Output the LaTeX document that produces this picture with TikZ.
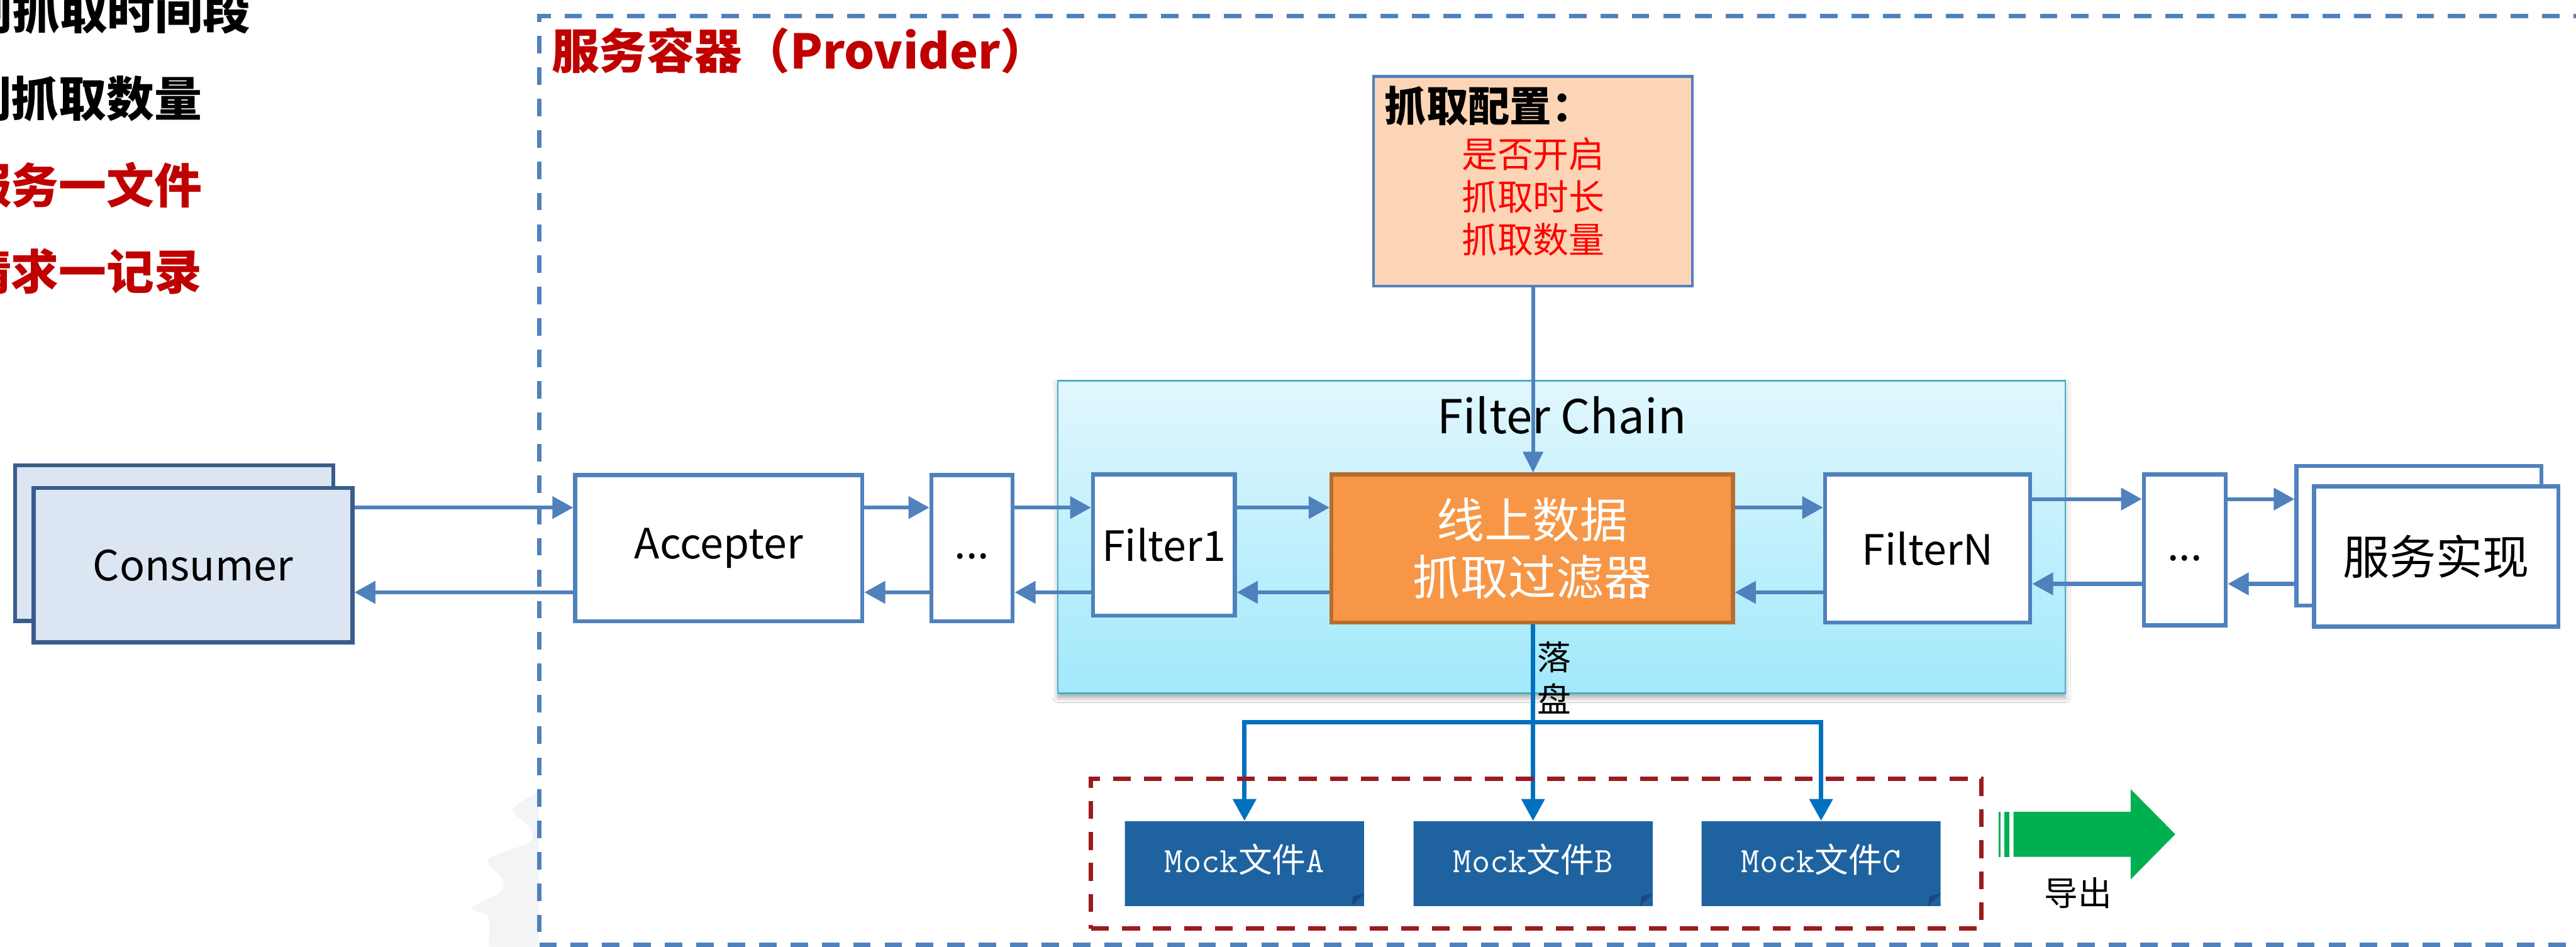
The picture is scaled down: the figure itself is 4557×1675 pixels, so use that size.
\documentclass[tikz,border=0pt]{standalone}
\usepackage{fontspec}
\setmainfont{Noto Sans CJK SC}
\usetikzlibrary{arrows.meta,shapes.misc,shadows.blur,backgrounds,calc}
\definecolor{lineblue}{HTML}{4F81BD}
\definecolor{consfill}{HTML}{DCE6F2}
\definecolor{consdraw}{HTML}{385D8A}
\definecolor{orfill}{HTML}{F79646}
\definecolor{ordraw}{HTML}{B66D2F}
\definecolor{cfgfill}{HTML}{FBD5B5}
\definecolor{fctop}{HTML}{E1F7FE}
\definecolor{fcbot}{HTML}{A2E9FC}
\definecolor{fcdraw}{HTML}{4BACC6}
\definecolor{provred}{HTML}{C00000}
\definecolor{cfgred}{HTML}{FF0000}
\definecolor{dropblue}{HTML}{0070C0}
\definecolor{mockblue}{HTML}{1F62A0}
\definecolor{mockfold}{HTML}{174A7C}
\definecolor{reddash}{HTML}{9B1B1E}
\definecolor{expgreen}{HTML}{00B050}
\definecolor{faintgray}{HTML}{F3F4F6}
\begin{document}
\begin{tikzpicture}[x=0.1mm,y=-0.1mm,
  boxfont/.style={font=\fontsize{21pt}{25pt}\selectfont},
  wbox/.style={draw=lineblue, line width=2pt, fill=white, inner sep=0pt, boxfont},
  cbox/.style={draw=consdraw, line width=2pt, fill=consfill, inner sep=0pt, boxfont},
  obox/.style={draw=ordraw, line width=2pt, fill=orfill, inner sep=0pt, text=white, align=center, font=\fontsize{24pt}{29pt}\selectfont},
  cfgbox/.style={draw=lineblue, line width=1.4pt, fill=cfgfill, inner sep=0pt},
  fchain/.style={draw=fcdraw, line width=0.8pt, top color=fctop, bottom color=fcbot, inner sep=0pt,
    blur shadow={shadow xshift=0mm, shadow yshift=-0.8mm, shadow blur radius=0.9mm, shadow opacity=35}},
  provbox/.style={draw=lineblue, line width=2.2pt, dash pattern=on 8.8pt off 7pt, inner sep=0pt},
  redbox/.style={draw=reddash, line width=2.2pt, dash pattern=on 9pt off 6.6pt, inner sep=0pt},
  mock/.style={chamfered rectangle, chamfered rectangle corners=south east,
    chamfered rectangle xsep=2.3mm, chamfered rectangle ysep=2.3mm,
    fill=mockblue, inner sep=0pt, minimum width=42.3mm, minimum height=15mm},
  mocktext/.style={inner sep=0pt, text=white, font=\fontsize{17pt}{20pt}\selectfont},
  lefttext/.style={inner sep=0pt, anchor=east, font=\bfseries\fontsize{24pt}{28pt}\selectfont},
  flow/.style={draw=lineblue, line width=2pt, -{Triangle[length=10.5pt,width=11pt]}},
  cfgflow/.style={draw=lineblue, line width=1.8pt, -{Triangle[length=10.5pt,width=10pt]}},
  dropflow/.style={draw=dropblue, line width=2.1pt, -{Triangle[length=11pt,width=11.4pt]}},
  lbl/.style={inner sep=0pt}
]
\useasboundingbox (0,0) rectangle (4557,1675);
\fill[white] (0,0) rectangle (4557,1675);

% faint grey shape
\fill[faintgray] plot[smooth] coordinates {(953,1400) (907,1433) (937,1463) (937,1490) (864,1520) (887,1553) (887,1577) (834,1607) (864,1622) (864,1675)} -- (953,1675) -- cycle;

% left texts (cut by the left edge, as in the reference)
\node[lefttext] (t1) at (444,19) {控制抓取时间段};
\node[lefttext] (t2) at (358,174) {控制抓取数量};
\node[lefttext, text=provred] (t3) at (358,327) {一个服务一文件};
\node[lefttext, text=provred] (t4) at (358,480) {一个请求一记录};

% provider container
\node[provbox, minimum width=368.6mm, minimum height=164.4mm] (prov) at (2797,850) {};
\node[lbl, anchor=west, text=provred, font=\bfseries\fontsize{24pt}{28pt}\selectfont] (title) at (975,90) {服务容器（Provider）};

% config
\node[cfgbox, minimum width=56.4mm, minimum height=37.1mm] (cfg) at (2712,320.5) {};
\node[lbl, anchor=west, font=\bfseries\fontsize{21pt}{25pt}\selectfont] (cfgt) at (2449,188) {抓取配置：};
\node[lbl, anchor=west, text=cfgred, align=left, font=\fontsize{18pt}{21.6pt}\selectfont] (cfgl) at (2585,348) {是否开启\\抓取时长\\抓取数量};

% filter chain
\node[fchain, minimum width=178.2mm, minimum height=55.3mm] (fc) at (2762.5,950) {};
\node[lbl, font=\fontsize{23.5pt}{28pt}\selectfont] (fct) at (2763,735) {Filter Chain};

% consumer
\node[cbox, minimum width=56.3mm, minimum height=27.5mm] (consB) at (308,961) {};
\node[cbox, minimum width=56.4mm, minimum height=27.3mm] (cons) at (341.5,1000) {Consumer};

% chain boxes
\node[wbox, minimum width=50.8mm, minimum height=25.9mm] (acc) at (1271.5,970) {Accepter};
\node[wbox, minimum width=14.4mm, minimum height=25.9mm] (d1) at (1719.5,970) {\vphantom{Accepter}...};
\node[wbox, minimum width=25.1mm, minimum height=25mm] (f1) at (2059,964.5) {Filter1};
\node[obox, minimum width=71mm, minimum height=26.2mm] (flt) at (2710.5,970.5) {线上数据\\抓取过滤器};
\node[wbox, minimum width=36.3mm, minimum height=26.2mm] (fN) at (3410,970.5) {FilterN};
\node[wbox, minimum width=14.5mm, minimum height=26.7mm] (d2) at (3865,973) {\vphantom{Accepter}...};
\node[wbox, minimum width=43.3mm, minimum height=24.7mm] (implB) at (4279,948) {};
\node[wbox, minimum width=43.2mm, minimum height=24.8mm, font=\fontsize{23.5pt}{27pt}\selectfont] (impl) at (4309.5,984.5) {服务实现};

% rows
\coordinate (r1) at (0,898);
\coordinate (r2) at (0,1048);
\coordinate (r3) at (0,883);
\coordinate (r4) at (0,1033);

\draw[flow] (cons.east |- r1) -- (acc.west |- r1);
\draw[flow] (acc.west |- r2) -- (cons.east |- r2);
\draw[flow] (acc.east |- r1) -- (d1.west |- r1);
\draw[flow] (d1.west |- r2) -- (acc.east |- r2);
\draw[flow] (d1.east |- r1) -- (f1.west |- r1);
\draw[flow] (f1.west |- r2) -- (d1.east |- r2);
\draw[flow] (f1.east |- r1) -- (flt.west |- r1);
\draw[flow] (flt.west |- r2) -- (f1.east |- r2);
\draw[flow] (flt.east |- r1) -- (fN.west |- r1);
\draw[flow] (fN.west |- r2) -- (flt.east |- r2);
\draw[flow] (fN.east |- r3) -- (d2.west |- r3);
\draw[flow] (d2.west |- r4) -- (fN.east |- r4);
\draw[flow] (d2.east |- r3) -- (implB.west |- r3);
\draw[flow] (implB.west |- r4) -- (d2.east |- r4);

% config arrow
\draw[cfgflow] (cfg.south) -- (cfg.south |- flt.north);

% mock files
\node[mock] (mA) at (2201.5,1528) {};
\node[mock] (mB) at (2712,1528) {};
\node[mock] (mC) at (3221.5,1528) {};
\node[mocktext] (tA) at ([yshift=0.7mm]mA.center) {{\ttfamily\fontsize{18pt}{20pt}\selectfont Mock}文件{\ttfamily\fontsize{18pt}{20pt}\selectfont A}};
\node[mocktext] (tB) at ([yshift=0.7mm]mB.center) {{\ttfamily\fontsize{18pt}{20pt}\selectfont Mock}文件{\ttfamily\fontsize{18pt}{20pt}\selectfont B}};
\node[mocktext] (tC) at ([yshift=0.7mm]mC.center) {{\ttfamily\fontsize{18pt}{20pt}\selectfont Mock}文件{\ttfamily\fontsize{18pt}{20pt}\selectfont C}};
\foreach \m in {mA,mB,mC}{
  \coordinate (c) at (\m.south -| \m.east);
  \fill[mockfold] ([shift={(-2.3mm,0.05mm)}]c) -- ([shift={(-2.0mm,1.8mm)}]c) -- ([shift={(0mm,2.3mm)}]c) -- cycle;
}

% drop to disk
\coordinate (bar) at (0,1278);
\draw[dropflow] (mB.north |- flt.south) -- (mB.north);
\draw[dropflow, line width=2.3pt] (mB.north |- bar) -| (mA.north);
\draw[dropflow, line width=2.3pt] (mB.north |- bar) -| (mC.north);
\node[lbl, anchor=west, align=center, font=\fontsize{17pt}{21.3pt}\selectfont] (luo) at (2719,1199.5) {落\\盘};

% red dashed group
\node[redbox, minimum width=157.5mm, minimum height=26.5mm] (mbox) at (2717.5,1510.5) {};

% export arrow
\fill[expgreen] (3562,1436) -- (3769,1436) -- (3769,1396) -- (3848,1476) -- (3769,1556) -- (3769,1516) -- (3562,1516) -- cycle;
\fill[expgreen] (3536,1436) rectangle (3539,1516);
\fill[expgreen] (3546,1436) rectangle (3554,1516);
\node[lbl, font=\fontsize{17pt}{20pt}\selectfont] (exp) at (3676,1580) {导出};
\end{tikzpicture}
\end{document}
